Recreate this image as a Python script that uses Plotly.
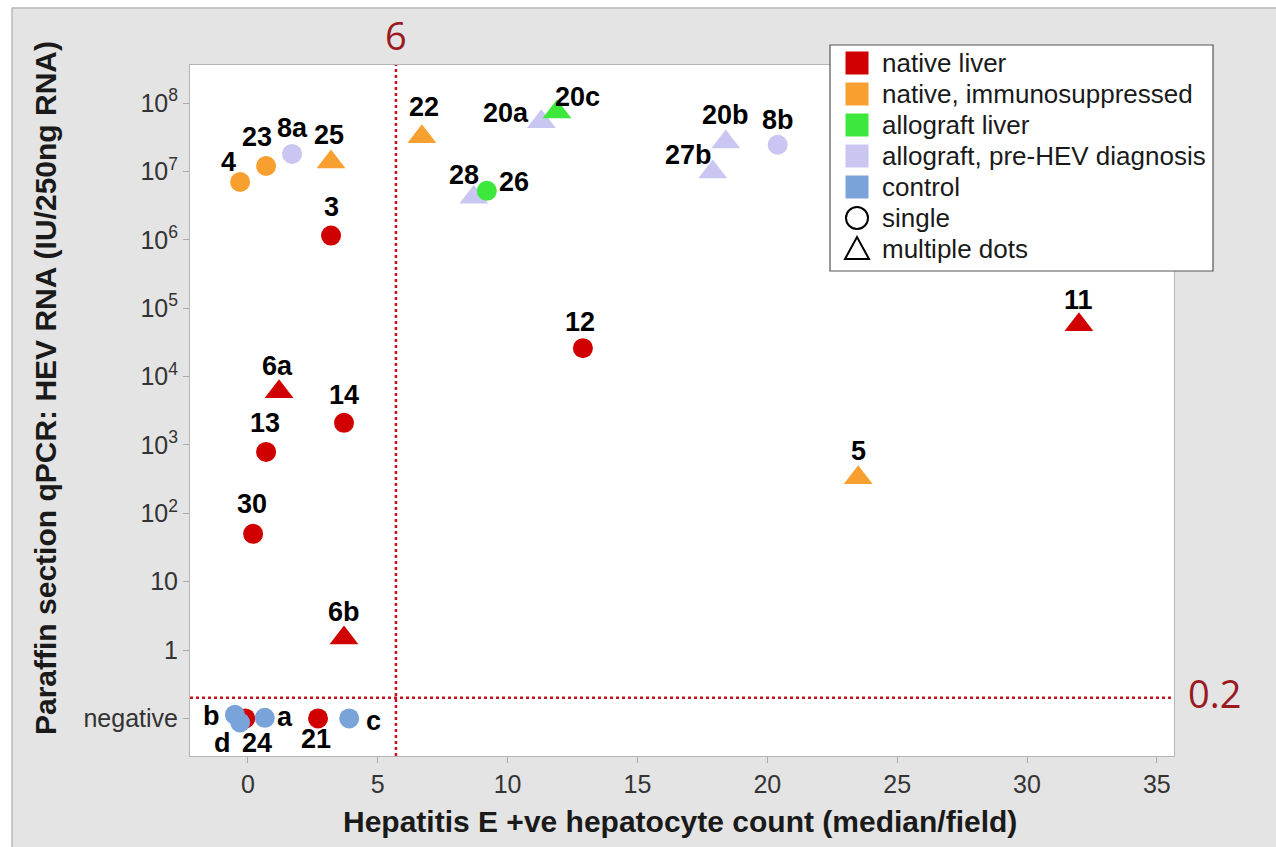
import plotly.graph_objects as go
import numpy as np

# ---------------- data ----------------
categories = ["native liver", "native, immunosuppressed", "allograft liver",
              "allograft, pre-HEV diagnosis", "control"]
cat_colors = ["#d10000", "#f7a030", "#3de83d", "#cac6f2", "#7aa3da"]
shape_names = ["single", "multiple dots"]

# per-category points: label, x (hepatocyte count), y (IU/250ng RNA; 0.1 = negative), dot type
native_labels = ["3", "6a", "14", "13", "30", "6b", "12", "11", "24", "21"]
native_x = [3.2, 1.2, 3.7, 0.7, 0.2, 3.7, 12.9, 32.0, -0.1, 2.7]
native_y = [1.15e6, 6.0e3, 2.1e3, 790, 50, 1.5, 2.6e4, 5.7e4, 0.1, 0.1]
native_type = ["single", "multiple", "single", "single", "single", "multiple", "single", "multiple", "single", "single"]

immuno_labels = ["4", "23", "25", "22", "5"]
immuno_x = [-0.3, 0.7, 3.2, 6.7, 23.5]
immuno_y = [7.0e6, 1.2e7, 1.37e7, 3.2e7, 330]
immuno_type = ["single", "single", "multiple", "multiple", "multiple"]

prehev_labels = ["8a", "20a", "28", "20b", "27b", "8b"]
prehev_x = [1.7, 11.3, 8.7, 18.4, 17.9, 20.4]
prehev_y = [1.8e7, 5.3e7, 4.2e6, 2.7e7, 9.8e6, 2.45e7]
prehev_type = ["single", "multiple", "multiple", "multiple", "multiple", "single"]

allo_labels = ["20c", "26"]
allo_x = [11.9, 9.2]
allo_y = [7.4e7, 5.2e6]
allo_type = ["multiple", "single"]

control_labels = ["b", "d", "a", "c"]
control_x = [-0.5, -0.3, 0.65, 3.9]
control_y = [0.113, 0.087, 0.102, 0.1]
control_type = ["single", "single", "single", "single"]

x_ticks = [0, 5, 10, 15, 20, 25, 30, 35]
y_tickvals = [1e8, 1e7, 1e6, 1e5, 1e4, 1e3, 1e2, 10, 1, 0.1]
y_ticktext = ["10<sup>8</sup>", "10<sup>7</sup>", "10<sup>6</sup>", "10<sup>5</sup>",
              "10<sup>4</sup>", "10<sup>3</sup>", "10<sup>2</sup>", "10", "1", "negative"]
x_threshold = 5.7
x_threshold_label = "6"
y_threshold = 0.2
y_threshold_label = "0.2"

# label offsets from the marker, in pixels (style only)
native_off = [(0, 29), (-2, 26), (0, 28), (-1, 29), (-1, 30), (0, 26), (-3, 26), (0, 25), (12, -25), (-2, -21)]
immuno_off = [(-12, 20), (-9, 29), (-2, 27), (2, 30), (0, 27)]
prehev_off = [(0, 26), (-35, 9), (-10, 22), (0, 27), (-24, 17), (0, 25)]
allo_off = [(21, 15), (27, 9)]
control_off = [(-23, -1), (-18, -20), (20, 1), (24, -3)]

FONT = "Liberation Sans, Arial, sans-serif"
sym = {"single": "circle", "multiple": "triangle-up"}
size = {"single": 20, "multiple": 25}

fig = go.Figure()

def add_group(labels, xs, ys, types, color, offs):
    fig.add_trace(go.Scatter(
        x=xs, y=ys, mode="markers",
        marker=dict(symbol=[sym[t] for t in types], size=[size[t] for t in types],
                    color=color, opacity=1, line=dict(width=0)),
        showlegend=False, hoverinfo="skip", cliponaxis=False))
    for lab, xv, yv, (dx, dy) in zip(labels, xs, ys, offs):
        fig.add_annotation(x=xv, y=np.log10(yv), xref="x", yref="y", text="<b>%s</b>" % lab,
                           showarrow=False, xshift=dx, yshift=dy,
                           font=dict(family=FONT, size=27, color="black"),
                           xanchor="center", yanchor="middle")

add_group(native_labels, native_x, native_y, native_type, cat_colors[0], native_off)
add_group(immuno_labels, immuno_x, immuno_y, immuno_type, cat_colors[1], immuno_off)
add_group(prehev_labels, prehev_x, prehev_y, prehev_type, cat_colors[3], prehev_off)
add_group(allo_labels, allo_x, allo_y, allo_type, cat_colors[2], allo_off)
add_group(control_labels, control_x, control_y, control_type, cat_colors[4], control_off)

# ---------------- layout helpers (pixel -> paper) ----------------
W, H = 1276, 847
ML, MR, MT, MB = 190, 102, 65, 91
PW, PH = W - ML - MR, H - MT - MB
def px(xp):
    return (xp - ML) / PW
def py(yp):
    return (H - MB - yp) / PH

# threshold lines
fig.add_shape(type="line", xref="x", yref="paper", x0=x_threshold, x1=x_threshold, y0=0, y1=1,
              line=dict(color="#c0141e", width=2.5, dash="dot"))
fig.add_shape(type="line", xref="paper", yref="y", x0=0, x1=1, y0=y_threshold, y1=y_threshold,
              line=dict(color="#c0141e", width=2.5, dash="dot"))

fig.add_annotation(x=x_threshold, xref="x", y=py(35), yref="paper", text=x_threshold_label,
                   showarrow=False, font=dict(family="Open Sans, Liberation Sans", size=38, color="#9a1a1f"),
                   xanchor="center", yanchor="middle")
fig.add_annotation(x=px(1214), xref="paper", y=np.log10(y_threshold), yref="y", text=y_threshold_label,
                   showarrow=False, font=dict(family="Open Sans, Liberation Sans", size=38, color="#9a1a1f"),
                   xanchor="center", yanchor="middle", yshift=5)

# axis titles
fig.add_annotation(x=px(45), xref="paper", y=py(388), yref="paper",
                   text="<b>Paraffin section qPCR: HEV RNA (IU/250ng RNA)</b>", textangle=-90,
                   showarrow=False, font=dict(family=FONT, size=30, color="#1a1a1a"),
                   xanchor="center", yanchor="middle")
fig.add_annotation(x=px(680), xref="paper", y=py(821), yref="paper",
                   text="<b>Hepatitis E +ve hepatocyte count (median/field)</b>",
                   showarrow=False, font=dict(family=FONT, size=30, color="#1a1a1a"),
                   xanchor="center", yanchor="middle")

# page frame: white strips and gray panel border
fig.add_shape(type="rect", xref="paper", yref="paper", x0=px(-50), x1=px(12), y0=py(900), y1=py(-50),
              fillcolor="white", line=dict(width=0), layer="below")
fig.add_shape(type="rect", xref="paper", yref="paper", x0=px(-50), x1=px(1330), y0=py(8), y1=py(-50),
              fillcolor="white", line=dict(width=0), layer="below")
fig.add_shape(type="rect", xref="paper", yref="paper", x0=px(12), x1=px(1330), y0=py(900), y1=py(8),
              fillcolor="rgba(0,0,0,0)", line=dict(width=1.5, color="#b8b8b8"), layer="below")

# ---------------- legend (box, swatches, labels) ----------------
leg_left, leg_top, leg_right, leg_bottom = 830, 45, 1213, 271
row0, pitch, sym_x, text_x = 63, 31, 857, 880
fig.add_shape(type="rect", xref="paper", yref="paper", x0=px(leg_left), x1=px(leg_right),
              y0=py(leg_bottom), y1=py(leg_top), fillcolor="white",
              line=dict(color="#555", width=1.2), layer="above")
legend_texts = categories + shape_names
for i, t in enumerate(legend_texts):
    cy = row0 + i * pitch
    fig.add_annotation(x=px(text_x), y=py(cy), xref="paper", yref="paper", text=t,
                       showarrow=False, xanchor="left", yanchor="middle",
                       font=dict(family=FONT, size=26, color="#1a1a1a"))
    if i < len(categories):
        fig.add_shape(type="rect", xref="paper", yref="paper",
                      x0=px(sym_x - 11.5), x1=px(sym_x + 11.5), y0=py(cy + 11.5), y1=py(cy - 11.5),
                      fillcolor=cat_colors[i], line=dict(width=0), layer="above")
    elif t == "single":
        fig.add_shape(type="circle", xref="paper", yref="paper",
                      x0=px(sym_x - 11), x1=px(sym_x + 11), y0=py(cy + 11), y1=py(cy - 11),
                      fillcolor="rgba(0,0,0,0)", line=dict(color="black", width=2), layer="above")
    else:
        fig.add_shape(type="path", xref="paper", yref="paper",
                      path="M %f,%f L %f,%f L %f,%f Z" % (px(sym_x - 12), py(cy + 10), px(sym_x + 12), py(cy + 10),
                                                          px(sym_x), py(cy - 12)),
                      fillcolor="rgba(0,0,0,0)", line=dict(color="black", width=2), layer="above")

fig.update_layout(
    width=W, height=H,
    margin=dict(l=ML, r=MR, t=MT, b=MB),
    paper_bgcolor="#e4e4e4", plot_bgcolor="white",
    font=dict(family=FONT, color="#333"),
    showlegend=False,
    xaxis=dict(range=[-2.23, 35.66], tickvals=x_ticks, showgrid=False, zeroline=False,
               ticks="outside", ticklen=6, tickcolor="#aaa", showline=True, mirror=True,
               linecolor="#b5b5b5", linewidth=1, tickfont=dict(family=FONT, size=25, color="#333")),
    yaxis=dict(type="log", range=[-1.55, 8.556], tickvals=y_tickvals, ticktext=y_ticktext,
               showgrid=False, zeroline=False, ticks="outside", ticklen=6, tickcolor="#aaa",
               showline=True, mirror=True, linecolor="#b5b5b5", linewidth=1,
               tickfont=dict(family=FONT, size=25, color="#333")),
)

fig.write_html("out.html")
